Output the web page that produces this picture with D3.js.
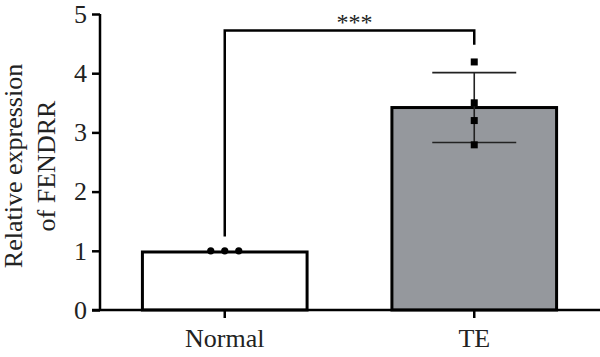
<!DOCTYPE html>
<meta charset="utf-8">
<style>
  body { margin: 0; background: #fff; }
  text { font-family: 'Liberation Serif', 'Times New Roman', serif; fill: #222; }
</style>
<script src="https://cdn.jsdelivr.net/npm/d3@7"></script>
<body>
<div id="chart"></div>
<script>
  // data
  const groups = ["Normal", "TE"];
  const means = [0.98, 3.42];
  const sds = [0, 0.59];
  const normalPoints = [1.0, 1.0, 1.0];
  const tePoints = [4.19, 3.50, 3.20, 2.79];
  const yTicks = [0, 1, 2, 3, 4, 5];
  const fills = ["#ffffff", "#95989d"];

  const W = 600, H = 357;
  const margin = {top: 14, right: 1, bottom: 47, left: 100};

  const svg = d3.select("#chart").append("svg")
    .attr("width", W)
    .attr("height", H);

  // scales
  const x = d3.scaleBand()
    .domain(groups)
    .range([margin.left, W - margin.right])
    .paddingInner(0.34)
    .paddingOuter(0.17);

  const y = d3.scaleLinear()
    .domain([0, 5])
    .range([H - margin.bottom, margin.top]);

  // bars
  svg.append("g")
    .selectAll("rect")
    .data(groups)
    .join("rect")
    .attr("x", d => x(d))
    .attr("y", (d, i) => y(means[i]))
    .attr("width", x.bandwidth())
    .attr("height", (d, i) => y(0) - y(means[i]))
    .attr("fill", (d, i) => fills[i])
    .attr("stroke", "#000")
    .attr("stroke-width", 3);

  // error bars (mean ± SD)
  const eb = svg.append("g").attr("stroke", "#222").attr("stroke-width", 1.6);
  groups.forEach((g, i) => {
    if (!sds[i]) return;
    const cx = x(g) + x.bandwidth() / 2;
    const half = x.bandwidth() * 0.255;
    eb.append("line")
      .attr("x1", cx).attr("x2", cx)
      .attr("y1", y(means[i] + sds[i])).attr("y2", y(means[i] - sds[i]));
    [means[i] + sds[i], means[i] - sds[i]].forEach(v => {
      eb.append("line")
        .attr("x1", cx - half).attr("x2", cx + half)
        .attr("y1", y(v)).attr("y2", y(v));
    });
  });

  // individual points
  const nCx = x("Normal") + x.bandwidth() / 2;
  svg.append("g")
    .selectAll("circle")
    .data(normalPoints)
    .join("circle")
    .attr("cx", (d, i) => nCx + (i - 1) * 14)
    .attr("cy", d => y(d))
    .attr("r", 3.6)
    .attr("fill", "#000");

  const tCx = x("TE") + x.bandwidth() / 2;
  svg.append("g")
    .selectAll("rect")
    .data(tePoints)
    .join("rect")
    .attr("x", tCx - 3.5)
    .attr("y", d => y(d) - 3.5)
    .attr("width", 7)
    .attr("height", 7)
    .attr("fill", "#000");

  // y axis
  const yAxis = svg.append("g")
    .attr("transform", `translate(${margin.left},0)`)
    .call(d3.axisLeft(y).tickValues(yTicks).tickSize(8).tickPadding(5).tickFormat(d3.format("d")));
  yAxis.select(".domain").attr("stroke-width", 2.5).attr("d", `M0,${y(5)}V${y(0)}`);
  yAxis.selectAll(".tick line").attr("stroke-width", 2.5);
  yAxis.selectAll("text").attr("font-size", 26).attr("font-family", "'Liberation Serif', serif").attr("fill", "#222");

  // x axis
  const xAxis = svg.append("g")
    .attr("transform", `translate(0,${y(0)})`)
    .call(d3.axisBottom(x).tickSize(8).tickPadding(11));
  xAxis.select(".domain").attr("stroke-width", 2.5).attr("d", `M${margin.left - 8},0H${W}`);
  xAxis.selectAll(".tick line").attr("stroke-width", 2.5);
  xAxis.selectAll("text").attr("font-size", 26).attr("font-family", "'Liberation Serif', serif").attr("fill", "#222");

  // y label
  const yl = svg.append("text")
    .attr("transform", `translate(22,166) rotate(-90)`)
    .attr("text-anchor", "middle")
    .attr("font-size", 26);
  yl.append("tspan").attr("x", 0).attr("dy", 0).text("Relative expression");
  yl.append("tspan").attr("x", 0).attr("dy", 33).text("of FENDRR");

  // significance bracket
  const bracketY = y(4.72);
  svg.append("path")
    .attr("d", `M${nCx},${y(1.24)}V${bracketY}H${tCx}V${y(4.48)}`)
    .attr("fill", "none")
    .attr("stroke", "#000")
    .attr("stroke-width", 2.5);
  svg.append("text")
    .attr("x", (nCx + tCx) / 2 + 5)
    .attr("y", bracketY - 1)
    .attr("text-anchor", "middle")
    .attr("font-size", 24)
    .attr("fill", "#333")
    .text("***");
</script>
</body>
